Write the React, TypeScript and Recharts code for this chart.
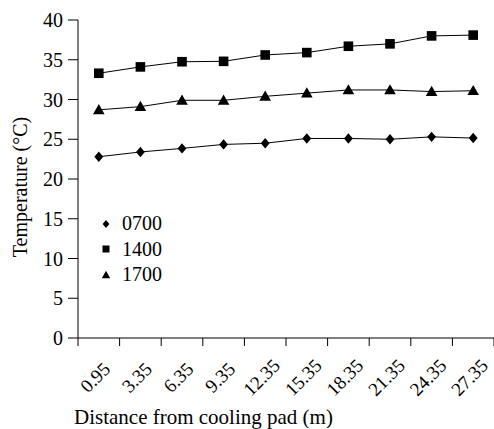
import { LineChart, Line, XAxis, YAxis, Legend } from "recharts";

const distances = ["0.95", "3.35", "6.35", "9.35", "12.35", "15.35", "18.35", "21.35", "24.35", "27.35"];
const temp0700 = [22.8, 23.4, 23.85, 24.35, 24.5, 25.1, 25.1, 25.0, 25.3, 25.15];
const temp1400 = [33.3, 34.1, 34.75, 34.8, 35.6, 35.9, 36.7, 37.0, 38.0, 38.1];
const temp1700 = [28.7, 29.1, 29.9, 29.9, 30.4, 30.8, 31.2, 31.2, 31.0, 31.1];
const yTicks = [0, 5, 10, 15, 20, 25, 30, 35, 40];

const data = distances.map((d, i) => ({
  i,
  d,
  t0700: temp0700[i],
  t1400: temp1400[i],
  t1700: temp1700[i],
}));

const bounds = distances.map((_, i) => i - 0.5).concat([distances.length - 0.5]);

const FONT = '"Liberation Serif", "Times New Roman", serif';
const HALF_BAND = 416 / distances.length / 2;

// "size" instead of "r": Line hands its own r=3 to custom dots
function Diamond({ cx, cy, size = 5.2 }: any) {
  if (cx == null || cy == null) return null;
  const s = size;
  return <path d={`M${cx},${cy - s} L${cx + s * 0.85},${cy} L${cx},${cy + s} L${cx - s * 0.85},${cy} Z`} fill="#000" />;
}

function Square({ cx, cy, size = 4.8 }: any) {
  if (cx == null || cy == null) return null;
  return <rect x={cx - size} y={cy - size} width={size * 2} height={size * 2} fill="#000" />;
}

function Triangle({ cx, cy, size = 5.8 }: any) {
  if (cx == null || cy == null) return null;
  const s = size;
  return <path d={`M${cx},${cy - s} L${cx + s},${cy + s * 0.75} L${cx - s},${cy + s * 0.75} Z`} fill="#000" />;
}

function XTick({ x, y, payload }: any) {
  const idx = Math.round(payload.value + 0.5);
  if (idx >= distances.length) return <g />;
  const ax = x + HALF_BAND + 1;
  const ay = y + 34;
  return (
    <text
      x={ax}
      y={ay}
      textAnchor="middle"
      fontSize={19}
      fontFamily={FONT}
      fill="#000"
      transform={`rotate(-45, ${ax}, ${ay})`}
    >
      {distances[idx]}
    </text>
  );
}

function YTick({ x, y, payload }: any) {
  return (
    <text x={x} y={y + 7} textAnchor="end" fontSize={20} fontFamily={FONT} fill="#000">
      {payload.value}
    </text>
  );
}

const legendItems = [
  { name: "0700", Shape: Diamond, size: 4 },
  { name: "1400", Shape: Square, size: 3.5 },
  { name: "1700", Shape: Triangle, size: 4.2 },
];

function LegendBox() {
  return (
    <div style={{ fontFamily: FONT, fontSize: 20, color: "#000" }}>
      {legendItems.map(({ name, Shape, size }) => (
        <div key={name} style={{ display: "flex", alignItems: "center", height: 25.5 }}>
          <svg width={14} height={14} style={{ marginRight: 9 }}>
            <Shape cx={7} cy={7} size={size} />
          </svg>
          <span style={{ lineHeight: "25px" }}>{name}</span>
        </div>
      ))}
    </div>
  );
}

export default function App() {
  return (
    <div style={{ position: "absolute", left: 0, top: 0, background: "#fff", fontFamily: FONT }}>
      <LineChart
        width={494}
        height={429}
        data={data}
        margin={{ top: 20, right: 0, left: 0, bottom: 0 }}
        style={{ fontFamily: FONT }}
      >
        <XAxis
          dataKey="i"
          type="number"
          domain={[-0.5, distances.length - 0.5]}
          ticks={bounds}
          interval={0}
          height={91}
          stroke="#000"
          tickSize={8}
          tick={<XTick />}
          label={{
            value: "Distance from cooling pad (m)",
            position: "insideBottomLeft",
            offset: 5,
            dx: -9,
            fontSize: 21,
            fill: "#000",
            fontFamily: FONT,
          }}
        />
        <YAxis
          width={78}
          domain={[0, 40]}
          ticks={yTicks}
          interval={0}
          stroke="#000"
          tickSize={10}
          tickMargin={5}
          tick={<YTick />}
          label={{
            value: "Temperature (°C)",
            angle: -90,
            position: "insideLeft",
            offset: 20,
            dy: 8,
            fontSize: 20,
            fill: "#000",
            fontFamily: FONT,
            style: { textAnchor: "middle" },
          }}
        />
        <Legend
          layout="vertical"
          align="center"
          verticalAlign="middle"
          content={<LegendBox />}
          wrapperStyle={{ position: "absolute", left: 99, top: 211, width: "auto" }}
        />
        <Line
          dataKey="t0700"
          name="0700"
          stroke="#000"
          strokeWidth={1}
          dot={<Diamond />}
          activeDot={false}
          isAnimationActive={false}
        />
        <Line
          dataKey="t1400"
          name="1400"
          stroke="#000"
          strokeWidth={1}
          dot={<Square />}
          activeDot={false}
          isAnimationActive={false}
        />
        <Line
          dataKey="t1700"
          name="1700"
          stroke="#000"
          strokeWidth={1}
          dot={<Triangle />}
          activeDot={false}
          isAnimationActive={false}
        />
      </LineChart>
    </div>
  );
}
